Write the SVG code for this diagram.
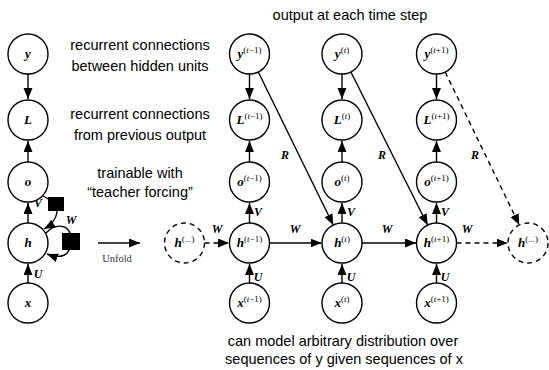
<svg xmlns="http://www.w3.org/2000/svg" width="549" height="370" viewBox="0 0 549 370">
<defs>
<marker id="ah" markerWidth="12" markerHeight="10" refX="11" refY="4.5" orient="auto" markerUnits="userSpaceOnUse"><path d="M0,0 L11,4.5 L0,9 z" fill="#000"/></marker>
<style>
.n{fill:#fff;stroke:#000;stroke-width:1.4}
.d{fill:#fff;stroke:#000;stroke-width:1.4;stroke-dasharray:5,4}
.e{fill:none;stroke:#000;stroke-width:1.4;marker-end:url(#ah)}
.ed{fill:none;stroke:#000;stroke-width:1.4;stroke-dasharray:5,4;marker-end:url(#ah)}
.m{font-family:"Liberation Serif",serif;font-style:italic;font-weight:bold;font-size:13px;text-anchor:middle}
.s{font-size:9px;font-weight:normal;font-style:normal}
.i{font-style:italic}
.l{font-family:"Liberation Serif",serif;font-style:italic;font-weight:bold;font-size:12px;text-anchor:middle}
.t{font-family:"Liberation Sans",Arial,sans-serif;font-size:14.5px;text-anchor:middle;fill:#000}
</style>
</defs>
<rect width="549" height="370" fill="#fff"/>
<g id="connectors">
<path class="e" d="M28,74 L28,99"/>
<path class="e" d="M28,162 L28,141"/>
<path class="e" d="M28,223 L28,203"/>
<path class="e" d="M28,283 L28,264"/>
<path class="e" d="M43,196 C52,201 58,205 57,212 C56,220 51,225 44,229"/>
<path class="e" d="M46,233 C55,223 71,223 71,240 C71,257 60,259 47,254"/>
<rect x="48" y="197" width="16" height="14" fill="#000"/>
<rect x="62" y="233" width="18" height="17" fill="#000"/>
<path class="e" d="M98,243 L140,243"/>
<path class="e" d="M249.5,74 L249.5,99"/>
<path class="e" d="M342,74 L342,99"/>
<path class="e" d="M436.5,74 L436.5,99"/>
<path class="e" d="M249.5,162 L249.5,141"/>
<path class="e" d="M342,162 L342,141"/>
<path class="e" d="M436.5,162 L436.5,141"/>
<path class="e" d="M249.5,223 L249.5,203"/>
<path class="e" d="M342,223 L342,203"/>
<path class="e" d="M436.5,223 L436.5,203"/>
<path class="e" d="M249.5,283 L249.5,264"/>
<path class="e" d="M342,283 L342,264"/>
<path class="e" d="M436.5,283 L436.5,264"/>
<path class="ed" d="M204.5,243 L229,243"/>
<path class="e" d="M269.5,243 L321.5,243"/>
<path class="e" d="M362,243 L416,243"/>
<path class="ed" d="M456.5,243 L507.5,243"/>
<path class="e" d="M258.3,72 L333.2,225"/>
<path class="e" d="M350.9,72 L427.6,225"/>
<path class="ed" d="M445.2,72 L519.3,225"/>
<text class="l" x="38" y="207">V</text>
<text class="l" x="38" y="278">U</text>
<text class="l" x="71" y="224">W</text>
<text x="117" y="262" font-family="Liberation Serif,serif" font-size="10.5" fill="#333" text-anchor="middle">Unfold</text>
<text class="l" x="217" y="233">W</text>
<text class="l" x="295" y="233">W</text>
<text class="l" x="387" y="233">W</text>
<text class="l" x="467" y="233">W</text>
<text class="l" x="285" y="159">R</text>
<text class="l" x="382" y="159">R</text>
<text class="l" x="475" y="159">R</text>
<text class="l" x="258" y="216">V</text>
<text class="l" x="351" y="216">V</text>
<text class="l" x="445" y="216">V</text>
<text class="l" x="258" y="281">U</text>
<text class="l" x="351" y="281">U</text>
<text class="l" x="445" y="281">U</text>
</g>
<g id="labels">
<text class="t" x="350" y="20">output at each time step</text>
<text class="t" x="140" y="50">recurrent connections</text>
<text class="t" x="140" y="71">between hidden units</text>
<text class="t" x="140" y="119">recurrent connections</text>
<text class="t" x="140" y="140">from previous output</text>
<text class="t" x="140" y="178">trainable with</text>
<text class="t" x="140" y="197">“teacher forcing”</text>
<text class="t" x="343" y="346">can model arbitrary distribution over</text>
<text class="t" x="344" y="364">sequences of y given sequences of x</text>
</g>
<g id="y"><circle class="n" cx="28" cy="54" r="20"/><text class="m" x="28" y="58">y</text></g>
<g id="L"><circle class="n" cx="28" cy="120" r="20"/><text class="m" x="28" y="124">L</text></g>
<g id="o"><circle class="n" cx="28" cy="182" r="20"/><text class="m" x="28" y="186">o</text></g>
<g id="h"><circle class="n" cx="28" cy="243" r="20"/><text class="m" x="28" y="247">h</text></g>
<g id="x"><circle class="n" cx="28" cy="303" r="20"/><text class="m" x="28" y="307">x</text></g>
<g id="h_prev"><circle class="d" cx="184.5" cy="243" r="20"/><text class="m" x="184.5" y="247">h<tspan class="s" dy="-5">(...)</tspan></text></g>
<g id="h_next"><circle class="d" cx="528" cy="243" r="20"/><text class="m" x="528" y="247">h<tspan class="s" dy="-5">(...)</tspan></text></g>
<g id="y_tm1"><circle class="n" cx="249.5" cy="54" r="20"/><text class="m" x="249.5" y="58">y<tspan class="s" dy="-5">(<tspan class="i">t</tspan>−1)</tspan></text></g>
<g id="L_tm1"><circle class="n" cx="249.5" cy="120" r="20"/><text class="m" x="249.5" y="124">L<tspan class="s" dy="-5">(<tspan class="i">t</tspan>−1)</tspan></text></g>
<g id="o_tm1"><circle class="n" cx="249.5" cy="182" r="20"/><text class="m" x="249.5" y="186">o<tspan class="s" dy="-5">(<tspan class="i">t</tspan>−1)</tspan></text></g>
<g id="h_tm1"><circle class="n" cx="249.5" cy="243" r="20"/><text class="m" x="249.5" y="247">h<tspan class="s" dy="-5">(<tspan class="i">t</tspan>−1)</tspan></text></g>
<g id="x_tm1"><circle class="n" cx="249.5" cy="303" r="20"/><text class="m" x="249.5" y="307">x<tspan class="s" dy="-5">(<tspan class="i">t</tspan>−1)</tspan></text></g>
<g id="y_t"><circle class="n" cx="342" cy="54" r="20"/><text class="m" x="342" y="58">y<tspan class="s" dy="-5">(<tspan class="i">t</tspan>)</tspan></text></g>
<g id="L_t"><circle class="n" cx="342" cy="120" r="20"/><text class="m" x="342" y="124">L<tspan class="s" dy="-5">(<tspan class="i">t</tspan>)</tspan></text></g>
<g id="o_t"><circle class="n" cx="342" cy="182" r="20"/><text class="m" x="342" y="186">o<tspan class="s" dy="-5">(<tspan class="i">t</tspan>)</tspan></text></g>
<g id="h_t"><circle class="n" cx="342" cy="243" r="20"/><text class="m" x="342" y="247">h<tspan class="s" dy="-5">(<tspan class="i">t</tspan>)</tspan></text></g>
<g id="x_t"><circle class="n" cx="342" cy="303" r="20"/><text class="m" x="342" y="307">x<tspan class="s" dy="-5">(<tspan class="i">t</tspan>)</tspan></text></g>
<g id="y_tp1"><circle class="n" cx="436.5" cy="54" r="20"/><text class="m" x="436.5" y="58">y<tspan class="s" dy="-5">(<tspan class="i">t</tspan>+1)</tspan></text></g>
<g id="L_tp1"><circle class="n" cx="436.5" cy="120" r="20"/><text class="m" x="436.5" y="124">L<tspan class="s" dy="-5">(<tspan class="i">t</tspan>+1)</tspan></text></g>
<g id="o_tp1"><circle class="n" cx="436.5" cy="182" r="20"/><text class="m" x="436.5" y="186">o<tspan class="s" dy="-5">(<tspan class="i">t</tspan>+1)</tspan></text></g>
<g id="h_tp1"><circle class="n" cx="436.5" cy="243" r="20"/><text class="m" x="436.5" y="247">h<tspan class="s" dy="-5">(<tspan class="i">t</tspan>+1)</tspan></text></g>
<g id="x_tp1"><circle class="n" cx="436.5" cy="303" r="20"/><text class="m" x="436.5" y="307">x<tspan class="s" dy="-5">(<tspan class="i">t</tspan>+1)</tspan></text></g>
</svg>
